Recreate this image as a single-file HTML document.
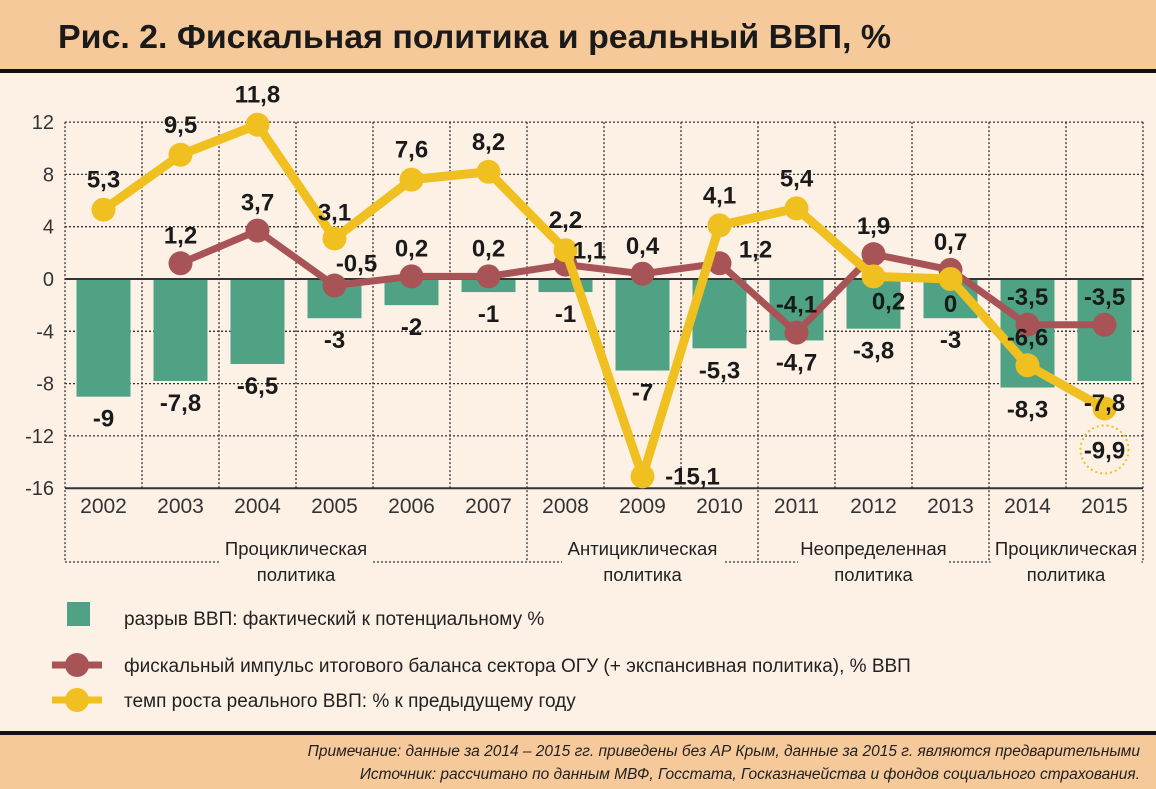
<!DOCTYPE html>
<html><head><meta charset="utf-8">
<style>
body{margin:0;background:#fdf1e6;}
svg{display:block;font-family:"Liberation Sans","DejaVu Sans",sans-serif;}
</style></head>
<body>
<svg id="chart" width="1156" height="789" viewBox="0 0 1156 789" xmlns="http://www.w3.org/2000/svg">
<rect x="0" y="0" width="1156" height="789" fill="#fdf1e6"/>
<rect x="0" y="0" width="1156" height="70" fill="#f5c99a"/>
<rect x="0" y="69" width="1156" height="4" fill="#111"/>
<text x="58" y="48" font-size="33" font-weight="bold" fill="#1a1a1a" textLength="833" lengthAdjust="spacingAndGlyphs">Рис. 2. Фискальная политика и реальный ВВП, %</text>
<g id="grid"></g>
<g id="bars"></g>
<g id="lines"></g>
<g id="labels"></g>
<g id="legend">
  <rect x="67" y="602" width="23" height="24" fill="#4fa384"/>
  <text x="124" y="625" font-size="19" fill="#222">разрыв ВВП: фактический к потенциальному %</text>
  <line x1="52" y1="665" x2="102" y2="665" stroke="#a85457" stroke-width="7"/>
  <circle cx="77" cy="665" r="12" fill="#a85457"/>
  <text x="124" y="672" font-size="19" fill="#222">фискальный импульс итогового баланса сектора ОГУ (+ экспансивная политика), % ВВП</text>
  <line x1="52" y1="700" x2="102" y2="700" stroke="#f0c020" stroke-width="7"/>
  <circle cx="77" cy="700" r="12" fill="#f0c020"/>
  <text x="124" y="707" font-size="19" fill="#222">темп роста реального ВВП: % к предыдущему году</text>
</g>
<rect x="0" y="731" width="1156" height="4" fill="#111"/>
<rect x="0" y="735" width="1156" height="54" fill="#f5c99a"/>
<text x="1140" y="756" font-size="15.5" font-style="italic" fill="#222" text-anchor="end">Примечание: данные за 2014 – 2015 гг. приведены без АР Крым, данные за 2015 г. являются  предварительными</text>
<text x="1140" y="779" font-size="15.5" font-style="italic" fill="#222" text-anchor="end">Источник: рассчитано по данным МВФ, Госстата, Госказначейства и фондов социального страхования.</text>
</svg>
<script>
const years = ["2002","2003","2004","2005","2006","2007","2008","2009","2010","2011","2012","2013","2014","2015"];
const gapValues = [-9,-7.8,-6.5,-3,-2,-1,-1,-7,-5.3,-4.7,-3.8,-3,-8.3,-7.8];
const fiscalValues = [null,1.2,3.7,-0.5,0.2,0.2,1.1,0.4,1.2,-4.1,1.9,0.7,-3.5,-3.5];
const gdpValues = [5.3,9.5,11.8,3.1,7.6,8.2,2.2,-15.1,4.1,5.4,0.2,0,-6.6,-9.9];
const yTicks = [12,8,4,0,-4,-8,-12,-16];
const groupNames = [["Проциклическая","политика"],["Антициклическая","политика"],["Неопределенная","политика"],["Проциклическая","политика"]];
const groupStarts = [0,6,9,12];
const groupEnds = [6,9,12,14];

// label placement offsets (layout only)
const gdpLabelOff = [[0,-22],[0,-22],[0,-22],[0,-18],[0,-22],[0,-22],[0,-22],[50,8],[0,-22],[0,-22],[15,33],[0,33],[0,-20],[0,50]];
const fiscalLabelOff = [[0,0],[0,-20],[0,-20],[22,-14],[0,-20],[0,-20],[24,-6],[0,-20],[36,-6],[0,-20],[0,-20],[0,-20],[0,-20],[0,-20]];

const NS="http://www.w3.org/2000/svg";
const X0=65, STEP=77.0, Y0=279, PX=52.3/4;
function xc(i){return X0+STEP*(i+0.5);}
function yv(v){return Y0-v*PX;}
function mk(tag,attrs,parent){const e=document.createElementNS(NS,tag);for(const k in attrs)e.setAttribute(k,attrs[k]);parent.appendChild(e);return e;}

const grid=document.getElementById('grid');
yTicks.forEach(t=>{
  if(t!==0 && t!==-16){
    const l=mk('line',{x1:X0,x2:X0+STEP*14,y1:yv(t),y2:yv(t),stroke:'#333','stroke-width':1.3,'stroke-dasharray':'2,2'},grid);
    
    
  }
  const tx=mk('text',{x:54,y:yv(t)+7,'font-size':20,fill:'#333','text-anchor':'end'},grid);
  tx.textContent=t;
  
  
});
for(let i=0;i<=14;i++){
  const isB=groupStarts.includes(i)||i===14;
  const l=mk('line',{x1:X0+STEP*i,x2:X0+STEP*i,y1:yv(12),y2:isB?562:yv(-16),stroke:'#333','stroke-width':1.3,'stroke-dasharray':'2,2'},grid);
  
  
}
mk('line',{x1:X0,x2:X0+STEP*14,y1:562,y2:562,stroke:'#333','stroke-width':1.3,'stroke-dasharray':'2,2'},grid);
years.forEach((y,i)=>{
  const t=mk('text',{x:xc(i),y:513,'font-size':21,fill:'#333','text-anchor':'middle'},grid);
  t.textContent=y;
  
  
});
groupNames.forEach((g,k)=>{
  const cx=(X0+STEP*groupStarts[k]+X0+STEP*groupEnds[k])/2;
  const w=g[0].length*10.2;
  mk('rect',{x:cx-w/2-4,y:556,width:w+8,height:12,fill:'#fdf1e6'},grid);
  const t1=mk('text',{x:cx,y:555,'font-size':18.5,fill:'#222','text-anchor':'middle'},grid);
  t1.textContent=g[0];
  
  
  const t2=mk('text',{x:cx,y:581,'font-size':18.5,fill:'#222','text-anchor':'middle'},grid);
  t2.textContent=g[1];
  
  
});

const bars=document.getElementById('bars');
gapValues.forEach((v,i)=>{
  const r=mk('rect',{x:xc(i)-27,y:Math.min(yv(v),Y0),width:54,height:Math.abs(yv(v)-Y0),fill:'#4fa384'},bars);
  
  
});
mk('line',{x1:X0,x2:X0+STEP*14,y1:Y0,y2:Y0,stroke:'#333','stroke-width':2},bars);
mk('line',{x1:X0,x2:X0+STEP*14,y1:yv(-16),y2:yv(-16),stroke:'#333','stroke-width':2},bars);

const lines=document.getElementById('lines');
function drawSeries(vals,color,name){
  const pts=[];vals.forEach((v,i)=>{if(v!==null)pts.push(xc(i)+','+yv(v));});
  const pl=mk('polyline',{points:pts.join(' '),fill:'none',stroke:color,'stroke-width':name==='gdp'?9:7,'stroke-linejoin':'round'},lines);
  
  
  vals.forEach((v,i)=>{if(v===null)return;
    const c=mk('circle',{cx:xc(i),cy:yv(v),r:12,fill:color},lines);
    
    
  });
}
drawSeries(fiscalValues,'#a85457','fiscal');
drawSeries(gdpValues,'#f0c020','gdp');

const labels=document.getElementById('labels');
function fmt(v){return String(v).replace('.',',');}
function lab(x,y,txt,name){
  const t=mk('text',{x:x,y:y,'font-size':24,'font-weight':'bold',fill:'#1a1a1a','text-anchor':'middle'},labels);
  t.textContent=txt;
  
  
}
gapValues.forEach((v,i)=>lab(xc(i),yv(v)+30,fmt(v),'value-label-gap'));
fiscalValues.forEach((v,i)=>{if(v!==null)lab(xc(i)+fiscalLabelOff[i][0],yv(v)+fiscalLabelOff[i][1],fmt(v),'value-label-fiscal');});
gdpValues.forEach((v,i)=>lab(xc(i)+gdpLabelOff[i][0],yv(v)+gdpLabelOff[i][1],fmt(v),'value-label-gdp'));
const last=gdpValues.length-1;
const hc=mk('circle',{cx:xc(last),cy:yv(gdpValues[last])+41,r:24,fill:'none',stroke:'#f0c020','stroke-width':2,'stroke-dasharray':'2,3'},labels);


</script>
</body></html>
